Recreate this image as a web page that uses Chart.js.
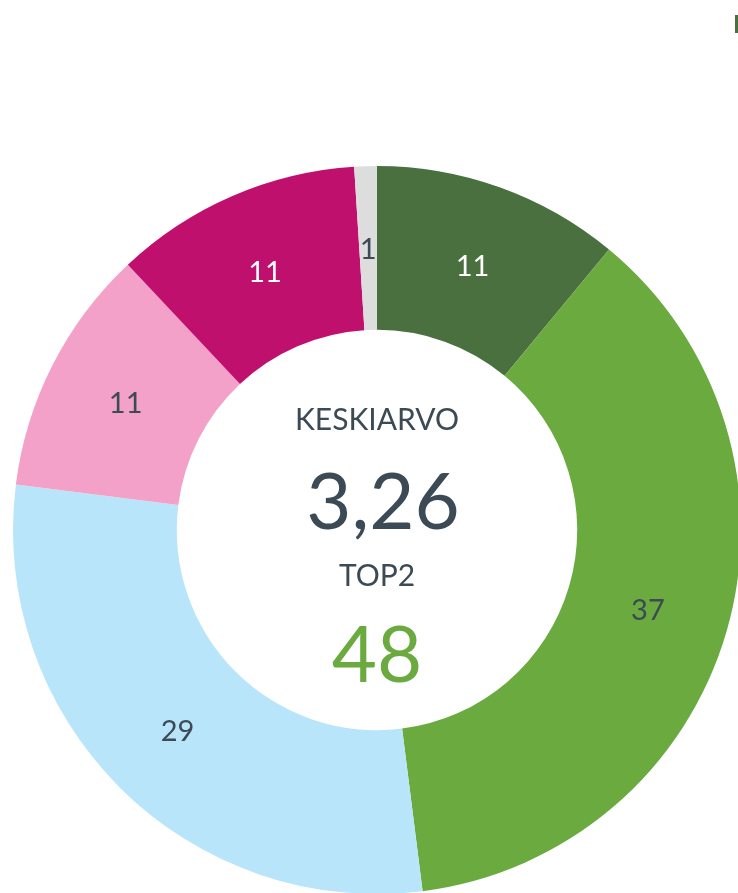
<!DOCTYPE html>
<html>
<head>
<meta charset="utf-8">
<script src="https://cdn.jsdelivr.net/npm/chart.js@4/dist/chart.umd.min.js"></script>
<style>
  html, body { margin: 0; padding: 0; background: #fff; overflow: hidden; }
  #wrap { position: relative; width: 738px; height: 893px; overflow: hidden; }
  #donut { position: absolute; left: 0; top: 153px; }
  #mark { position: absolute; left: 735px; top: 15px; width: 3px; height: 18px; background: #4a7040; }
</style>
</head>
<body>
<div id="wrap">
  <div id="mark"></div>
  <canvas id="donut" width="754" height="754"></canvas>
</div>
<script>
// chart data
const categories = ['5', '4', '3', '2', '1', 'EOS'];
const shares = [11, 37, 29, 11, 11, 1];
const sliceColors = ['#4a7040', '#6aaa3f', '#b9e5fb', '#f3a1c8', '#c0106e', '#dddddd'];
const labelColors = ['#ffffff', '#3b4a54', '#3b4a54', '#3b4a54', '#ffffff', '#3b4a54'];

const centerTitle = 'KESKIARVO';
const centerMean = '3,26';
const centerTopTitle = 'TOP2';
const centerTop = '48';

const fontFamily = 'Lato, "Open Sans", sans-serif';

// draw the value of each slice at its middle
const sliceLabels = {
  id: 'sliceLabels',
  afterDatasetsDraw(chart) {
    const ctx = chart.ctx;
    const meta = chart.getDatasetMeta(0);
    ctx.save();
    ctx.font = '29px ' + fontFamily;
    ctx.textAlign = 'center';
    ctx.textBaseline = 'middle';
    meta.data.forEach((arc, i) => {
      const pos = arc.tooltipPosition();
      ctx.fillStyle = labelColors[i];
      ctx.fillText(String(shares[i]), pos.x, pos.y + 2);
    });
    ctx.restore();
  }
};

// text inside the hole
const centerText = {
  id: 'centerText',
  afterDraw(chart) {
    const ctx = chart.ctx;
    const arc = chart.getDatasetMeta(0).data[0];
    const cx = arc.x, cy = arc.y;
    ctx.save();
    ctx.textAlign = 'center';
    ctx.textBaseline = 'middle';
    ctx.fillStyle = '#3b4a54';
    ctx.font = '30px ' + fontFamily;
    ctx.fillText(centerTitle, cx, cy - 110);
    ctx.font = '78px ' + fontFamily;
    ctx.fillText(centerMean, cx + 6, cy - 26);
    ctx.font = '30px ' + fontFamily;
    ctx.fillText(centerTopTitle, cx, cy + 46);
    ctx.fillStyle = '#6aaa3f';
    ctx.font = '78px ' + fontFamily;
    ctx.fillText(centerTop, cx, cy + 127);
    ctx.restore();
  }
};

const ctx = document.getElementById('donut').getContext('2d');
window.donutChart = new Chart(ctx, {
  type: 'doughnut',
  data: {
    labels: categories,
    datasets: [{
      data: shares,
      backgroundColor: sliceColors,
      borderWidth: 0,
      hoverOffset: 0
    }]
  },
  options: {
    responsive: false,
    animation: false,
    cutout: '55%',
    layout: { padding: 13 },
    plugins: {
      legend: { display: false },
      tooltip: { enabled: false }
    }
  },
  plugins: [sliceLabels, centerText]
});
</script>
</body>
</html>
